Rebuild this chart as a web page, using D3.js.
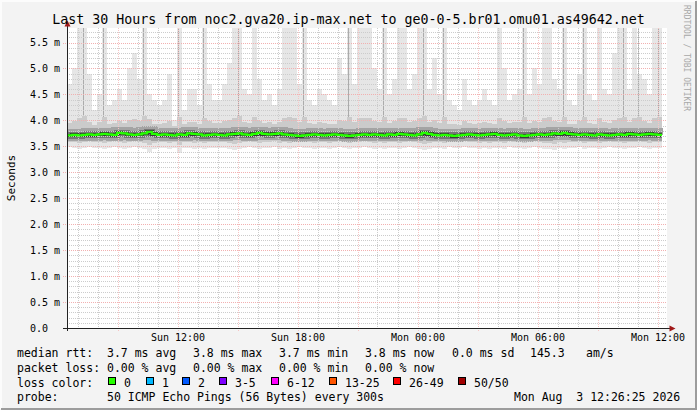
<!DOCTYPE html>
<html>
<head>
<meta charset="utf-8">
<script src="https://cdn.jsdelivr.net/npm/d3@7/dist/d3.min.js"></script>
<style>
body { margin: 0; background: #f3f3f3; }
svg { display: block; font-family: "DejaVu Sans Mono", monospace; }
text { white-space: pre; }
</style>
</head>
<body>
<svg id="chart" width="697" height="410"></svg>
<script>
var startTime = new Date(2026, 7, 2, 6, 28, 30);
var endTime = new Date(2026, 7, 3, 12, 28, 30);
var stepMinutes = 15;

// median rtt per 15 min step, ms
var median = [
  3.71,3.72,3.71,3.72,3.73,3.72,3.73,3.74,3.73,3.72,
  3.76,3.75,3.73,3.72,3.73,3.75,3.78,3.74,3.72,3.73,
  3.72,3.71,3.73,3.72,3.75,3.74,3.73,3.71,3.72,3.73,
  3.72,3.71,3.73,3.74,3.75,3.73,3.72,3.74,3.76,3.74,
  3.73,3.74,3.75,3.73,3.72,3.71,3.70,3.71,3.72,3.73,
  3.72,3.71,3.72,3.73,3.72,3.71,3.70,3.71,3.72,3.73,
  3.72,3.73,3.72,3.71,3.73,3.72,3.74,3.73,3.72,3.71,
  3.73,3.76,3.74,3.72,3.71,3.72,3.71,3.70,3.71,3.72,
  3.73,3.72,3.71,3.72,3.73,3.74,3.72,3.71,3.72,3.73,
  3.71,3.70,3.71,3.72,3.73,3.72,3.73,3.75,3.74,3.76,
  3.74,3.73,3.72,3.73,3.72,3.71,3.73,3.72,3.71,3.72,
  3.73,3.72,3.74,3.73,3.72,3.73,3.74,3.73,3.72
];

// smoke: lowest ping
var smokeMin = [
  3.48,3.47,3.45,3.46,3.48,3.47,3.46,3.44,3.47,3.48,
  3.46,3.45,3.47,3.48,3.46,3.44,3.40,3.45,3.47,3.46,
  3.45,3.47,3.38,3.46,3.47,3.45,3.46,3.44,3.47,3.46,
  3.47,3.46,3.44,3.42,3.45,3.47,3.48,3.46,3.45,3.47,
  3.46,3.48,3.44,3.46,3.45,3.47,3.48,3.46,3.47,3.45,
  3.46,3.47,3.45,3.46,3.48,3.47,3.45,3.46,3.47,3.48,
  3.46,3.45,3.47,3.44,3.46,3.47,3.45,3.46,3.48,3.46,
  3.45,3.42,3.44,3.46,3.47,3.45,3.48,3.46,3.47,3.48,
  3.46,3.47,3.45,3.46,3.44,3.46,3.47,3.45,3.48,3.46,
  3.47,3.45,3.46,3.48,3.46,3.45,3.44,3.42,3.46,3.45,
  3.47,3.46,3.48,3.45,3.46,3.47,3.45,3.46,3.48,3.47,
  3.46,3.45,3.47,3.46,3.48,3.47,3.45,3.46,3.47
];

// smoke: bottom of the dense part
var smokeLow = [
  3.59,3.58,3.57,3.58,3.60,3.59,3.58,3.56,3.59,3.60,
  3.58,3.57,3.59,3.60,3.58,3.56,3.52,3.57,3.59,3.58,
  3.57,3.59,3.52,3.58,3.59,3.57,3.58,3.56,3.59,3.58,
  3.59,3.58,3.56,3.55,3.57,3.59,3.60,3.58,3.57,3.59,
  3.58,3.60,3.57,3.58,3.57,3.59,3.60,3.58,3.59,3.57,
  3.58,3.59,3.57,3.58,3.60,3.59,3.57,3.58,3.59,3.60,
  3.58,3.57,3.59,3.56,3.58,3.59,3.57,3.58,3.60,3.58,
  3.57,3.55,3.56,3.58,3.59,3.57,3.60,3.58,3.59,3.60,
  3.58,3.59,3.57,3.58,3.56,3.58,3.59,3.57,3.60,3.58,
  3.59,3.57,3.58,3.60,3.58,3.57,3.56,3.55,3.58,3.57,
  3.59,3.58,3.60,3.57,3.58,3.59,3.57,3.58,3.60,3.59,
  3.58,3.57,3.59,3.58,3.60,3.59,3.57,3.58,3.59
];

// smoke: top of the dense part
var smokeHigh = [
  3.95,3.98,4.05,4.08,3.97,3.92,3.96,4.06,3.93,3.95,
  3.98,3.95,4.00,4.03,3.98,4.08,4.02,3.94,3.93,3.95,
  3.99,3.90,4.06,3.93,3.97,3.96,3.94,4.05,3.98,3.95,
  3.95,3.98,4.00,4.05,4.08,3.97,3.95,4.06,3.99,3.95,
  3.96,3.93,3.97,4.05,4.07,4.04,3.97,4.06,3.95,3.93,
  3.96,3.95,3.94,3.93,4.01,3.99,4.06,3.97,4.04,4.05,
  4.05,3.99,3.97,4.06,3.95,3.98,4.05,4.04,3.96,3.99,
  4.05,4.08,3.96,4.01,3.95,4.06,3.94,3.93,3.92,3.98,
  3.95,3.93,3.95,3.97,3.95,3.93,4.05,3.99,3.95,3.96,
  3.97,4.06,3.95,3.99,3.97,4.05,4.06,3.98,3.96,4.07,
  3.94,3.93,3.99,4.06,3.95,3.94,4.05,3.96,3.95,4.01,
  4.05,4.07,3.97,4.05,4.06,3.98,3.95,4.05,4.06
];

// smoke: highest ping
var smokeMax = [
  4.7,5.0,5.9,5.9,4.9,4.2,4.5,5.9,4.3,4.4,
  4.6,4.4,5.0,5.3,4.8,5.9,4.5,4.4,4.3,4.4,
  4.9,4.0,5.9,4.2,4.6,4.6,4.3,5.9,4.7,4.4,
  4.4,4.7,5.1,5.9,5.9,4.6,4.5,5.9,4.8,4.4,
  4.5,4.3,4.6,5.9,5.9,5.9,4.7,5.9,4.4,4.3,
  4.6,4.5,4.4,4.3,5.2,4.9,5.9,4.7,5.9,5.9,
  5.9,5.0,4.6,5.9,4.5,4.8,5.9,5.9,4.6,4.9,
  5.9,5.9,4.6,5.2,4.5,5.9,4.4,4.3,4.2,4.8,
  4.4,4.3,4.4,4.6,4.4,4.3,5.9,5.0,4.4,4.5,
  4.6,5.9,4.5,5.0,4.7,5.9,5.9,4.8,4.6,5.9,
  4.4,4.3,4.9,5.9,4.5,4.4,5.9,4.6,4.5,5.3,
  5.9,5.9,4.6,5.9,4.9,4.8,4.5,5.9,5.9
];

// steps where a single ping shot up (darker thin line)
var spikeSteps = [3, 7, 15, 22, 27, 34, 47, 56, 63, 71, 75, 91, 99, 103, 111, 114, 118];
var spikeTops  = [5.9, 5.9, 5.9, 5.9, 5.9, 5.9, 5.9, 5.9, 5.9, 5.9, 5.9, 5.9, 5.9, 5.9, 5.9, 5.9, 5.9];

var xTicks = [new Date(2026, 7, 2, 12), new Date(2026, 7, 2, 18), new Date(2026, 7, 3, 0),
              new Date(2026, 7, 3, 6), new Date(2026, 7, 3, 12)];
var yTicks = [0, 0.5, 1, 1.5, 2, 2.5, 3, 3.5, 4, 4.5, 5, 5.5];
var yTickLabels = ['0.0', '0.5 m', '1.0 m', '1.5 m', '2.0 m', '2.5 m', '3.0 m', '3.5 m', '4.0 m', '4.5 m', '5.0 m', '5.5 m'];

var rttStats = ['3.7 ms avg', '3.8 ms max', '3.7 ms min', '3.8 ms now', '0.0 ms sd', '145.3', 'am/s'];
var lossStats = ['0.00 % avg', '0.00 % max', '0.00 % min', '0.00 % now'];
var lossLabels = ['0', '1', '2', '3-5', '6-12', '13-25', '26-49', '50/50'];
var lossColors = ['#26ff00', '#00b8ff', '#0059ff', '#7e00ff', '#ff00fe', '#ff5500', '#ff0000', '#a10000'];

var svg = d3.select('#chart');
var x = d3.scaleTime().domain([startTime, endTime]).range([67, 667]);
var y = d3.scaleLinear().domain([0, 5.78]).range([328, 28]);

function stepTime(i){
  return d3.timeMinute.offset(startTime, i * stepMinutes);
}

function drawFrame(){
  svg.append('rect').attr('width', 697).attr('height', 410).attr('fill', '#f3f3f3');
  svg.append('path').attr('d', 'M1,409V1H696').attr('fill', 'none').attr('stroke', '#fcfcfc').attr('stroke-width', 2);
  svg.append('path').attr('d', 'M1,409H696V1').attr('fill', 'none').attr('stroke', '#9c9c9c').attr('stroke-width', 2);
  svg.append('rect').attr('x', 67).attr('y', 28).attr('width', 600).attr('height', 300).attr('fill', '#ffffff');
  svg.append('clipPath').attr('id', 'canvas')
    .append('rect').attr('x', 67).attr('y', 28).attr('width', 600).attr('height', 300);
}

function drawSmoke(){
  var g = svg.append('g').attr('clip-path', 'url(#canvas)').attr('shape-rendering', 'crispEdges');
  var cols = d3.range(median.length);
  var colX = function(i){ return Math.round(x(stepTime(i))); };
  var colW = function(i){ return Math.round(x(stepTime(i + 1))) - Math.round(x(stepTime(i))); };

  g.selectAll('rect.light').data(cols).enter().append('rect')
    .attr('class', 'light')
    .attr('x', colX).attr('width', colW)
    .attr('y', function(i){ return Math.round(y(smokeMax[i])); })
    .attr('height', function(i){ return Math.round(y(smokeMin[i])) - Math.round(y(smokeMax[i])); })
    .attr('fill', '#e6e6e6');

  g.selectAll('rect.mid').data(cols).enter().append('rect')
    .attr('class', 'mid')
    .attr('x', colX).attr('width', colW)
    .attr('y', function(i){ return Math.round(y(smokeHigh[i])); })
    .attr('height', function(i){ return Math.round(y(smokeLow[i])) - Math.round(y(smokeHigh[i])); })
    .attr('fill', '#cbcbcb');

  g.selectAll('line.spike').data(spikeSteps).enter().append('line')
    .attr('class', 'spike')
    .attr('x1', function(s){ return colX(s) + 1.5; })
    .attr('x2', function(s){ return colX(s) + 1.5; })
    .attr('y1', function(s){ return y(smokeHigh[s]); })
    .attr('y2', function(s, k){ return y(spikeTops[k]); })
    .attr('stroke', '#ababab').attr('stroke-width', 1);

  // dense core around the median
  var pts = cols.map(function(i){ return [stepTime(i), median[i]]; });
  pts.push([stepTime(median.length), median[median.length - 1]]);
  var line = d3.line().x(function(d){ return x(d[0]); }).y(function(d){ return y(d[1]); }).curve(d3.curveStepAfter);
  g.append('path').attr('d', line(pts)).attr('fill', 'none').attr('stroke', '#a4a4a4').attr('stroke-width', 12);
  g.append('path').attr('d', line(pts)).attr('fill', 'none').attr('stroke', '#767676').attr('stroke-width', 6.5);
  g.append('path').attr('d', line(pts)).attr('fill', 'none').attr('stroke', '#3a3a3a').attr('stroke-width', 3.6);
  return pts;
}

function dotted(g, x1, y1, x2, y2, color){
  // one pixel on, one pixel off
  var n = Math.max(Math.abs(x2 - x1), Math.abs(y2 - y1));
  var dots = d3.range(0, n, 2);
  g.selectAll(null).data(dots).enter().append('rect')
    .attr('x', function(k){ return x1 === x2 ? x1 : x1 + k; })
    .attr('y', function(k){ return y1 === y2 ? y1 : y1 + k; })
    .attr('width', 1).attr('height', 1)
    .attr('fill', color);
}

function drawGrid(){
  var g = svg.append('g').attr('shape-rendering', 'crispEdges');
  var hours = d3.timeHour.range(startTime, endTime);
  hours.forEach(function(d){
    var px = Math.round(x(d));
    var major = d.getHours() % 3 === 0;
    dotted(g, px, 28, px, major ? 332 : 329, major ? '#f6c4c4' : '#cccccc');
  });

  d3.range(1, 58).forEach(function(t){
    var py = Math.round(y(t / 10));
    var major = t % 5 === 0;
    dotted(g, major ? 63 : 67, py, 667, py, major ? '#f2b0b0' : '#cccccc');
  });
}

function drawMedian(pts){
  var line = d3.line().x(function(d){ return x(d[0]); }).y(function(d){ return y(d[1]); }).curve(d3.curveStepAfter);
  svg.append('g').attr('clip-path', 'url(#canvas)')
    .append('path').attr('d', line(pts))
    .attr('fill', 'none').attr('stroke', lossColors[0]).attr('stroke-width', 2.3);
}

function drawAxes(){
  svg.append('line').attr('x1', 67.5).attr('x2', 67.5).attr('y1', 331).attr('y2', 24)
    .attr('stroke', '#222').attr('shape-rendering', 'crispEdges');
  svg.append('line').attr('x1', 63).attr('x2', 670).attr('y1', 328.5).attr('y2', 328.5)
    .attr('stroke', '#222').attr('shape-rendering', 'crispEdges');
  svg.append('path').attr('d', 'M64.5,26.5L70.5,26.5L67.5,20.5Z').attr('fill', '#a01818');
  svg.append('path').attr('d', 'M669.5,325.5L669.5,331.5L675.5,328.5Z').attr('fill', '#a01818');

  var xa = svg.append('g').attr('transform', 'translate(0,328)')
    .call(d3.axisBottom(x).tickValues(xTicks).tickFormat(d3.timeFormat('%a %H:%M')).tickSize(0).tickPadding(13));
  xa.select('.domain').remove();
  xa.selectAll('text').attr('dy', null).attr('font-size', '10px').attr('fill', '#000')
    .attr('font-family', '"DejaVu Sans Mono", monospace');

  var ya = svg.append('g').attr('transform', 'translate(67,0)')
    .call(d3.axisLeft(y).tickValues(yTicks).tickFormat(function(d, i){ return yTickLabels[i]; }).tickSize(0));
  ya.select('.domain').remove();
  ya.selectAll('text').attr('x', -37).attr('text-anchor', 'start').attr('dy', '0.34em')
    .attr('font-size', '10px').attr('fill', '#000')
    .attr('font-family', '"DejaVu Sans Mono", monospace');
}

function drawText(){
  svg.append('text').attr('x', 348.5).attr('y', 24).attr('text-anchor', 'middle')
    .attr('font-size', '13.3px')
    .text('Last 30 Hours from noc2.gva20.ip-max.net to ge0-0-5.br01.omu01.as49642.net');

  svg.append('text').attr('transform', 'translate(15,178) rotate(-90)').attr('text-anchor', 'middle')
    .attr('font-size', '11px').text('Seconds');

  svg.append('text').attr('transform', 'translate(684,5) rotate(90)')
    .attr('font-size', '8px').attr('fill', '#a8a8a8').text('RRDTOOL / TOBI OETIKER');

  var legend = svg.append('g').attr('font-size', '11.5px');
  var statX = [107, 193, 279, 365, 452, 530, 586];

  legend.append('text').attr('x', 17).attr('y', 357).text('median rtt:');
  legend.selectAll('text.rtt').data(rttStats).enter().append('text')
    .attr('class', 'rtt').attr('x', function(d, i){ return statX[i]; }).attr('y', 357).text(function(d){ return d; });

  legend.append('text').attr('x', 17).attr('y', 372).text('packet loss:');
  legend.selectAll('text.loss').data(lossStats).enter().append('text')
    .attr('class', 'loss').attr('x', function(d, i){ return statX[i]; }).attr('y', 372).text(function(d){ return d; });

  var boxX = [108, 146, 182, 219, 271, 329, 393, 458];
  legend.append('text').attr('x', 17).attr('y', 387).text('loss color:');
  legend.selectAll('rect.box').data(lossColors).enter().append('rect')
    .attr('class', 'box').attr('x', function(d, i){ return boxX[i] + 0.5; }).attr('y', 377.5)
    .attr('width', 7).attr('height', 7)
    .attr('fill', function(d){ return d; }).attr('stroke', '#000').attr('stroke-width', 1);
  legend.selectAll('text.lc').data(lossLabels).enter().append('text')
    .attr('class', 'lc').attr('x', function(d, i){ return boxX[i] + 16; }).attr('y', 387).text(function(d){ return d; });

  legend.append('text').attr('x', 17).attr('y', 401).text('probe:');
  legend.append('text').attr('x', 107).attr('y', 401).text('50 ICMP Echo Pings (56 Bytes) every 300s');
  legend.append('text').attr('x', 514).attr('y', 401).text('Mon Aug  3 12:26:25 2026');
}

drawFrame();
var medianPts = drawSmoke();
drawGrid();
drawMedian(medianPts);
drawAxes();
drawText();
</script>
</body>
</html>
